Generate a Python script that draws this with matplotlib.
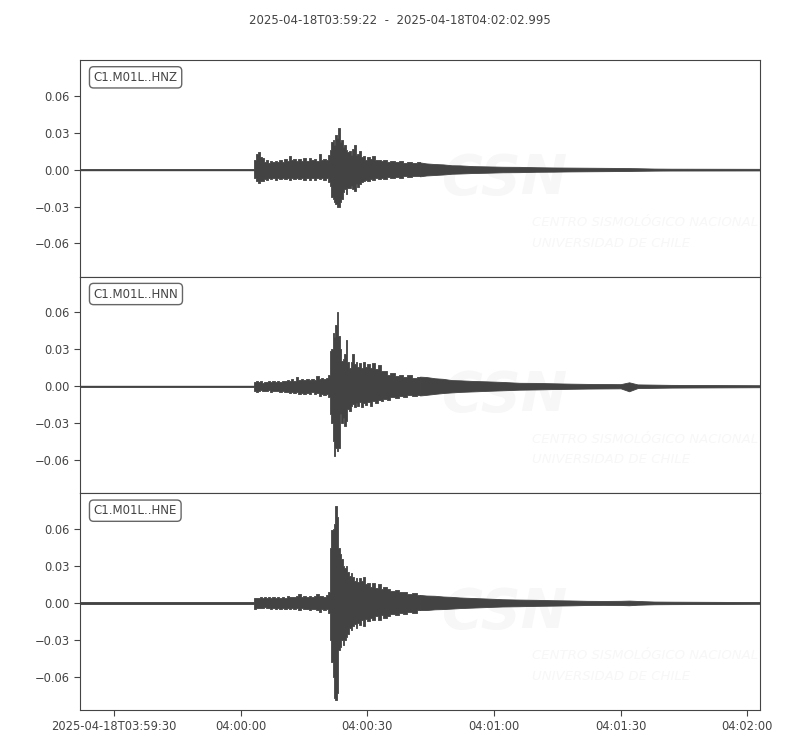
import numpy as np
import matplotlib
matplotlib.use("Agg")
import matplotlib.pyplot as plt
from matplotlib.ticker import FuncFormatter

# seconds after 2025-04-18T03:59:22 (envelope of each trace)
t_env = [0, 40.9, 41.3, 41.9, 42.4, 42.8, 43.2, 43.7, 44.2, 44.7, 45.2, 45.8, 46.3, 46.9, 47.5,
         48.0, 48.6, 49.2, 49.7, 50.2, 50.8, 51.4, 52.0, 52.6, 53.2, 53.8, 54.4, 55.0, 55.6, 56.2,
         56.8, 57.3, 57.9, 58.5, 59.0, 59.2, 59.6, 59.97, 60.3, 60.6, 61.0, 61.4, 61.7, 62.0, 62.4,
         62.7, 63.1, 63.5, 63.9, 64.3, 64.7, 65.1, 65.5, 65.9, 66.3, 66.8, 67.3, 67.8, 68.3, 68.9,
         69.5, 70.1, 70.8, 71.5, 72.2, 73.0, 74.0, 75.0, 76.0, 77.0, 78.0, 79.0, 80.5, 82.0, 84.0,
         86.0, 88.0, 90.0, 93.0, 96.0, 100.0, 104.0, 108.0, 112.0, 116.0, 120.0, 124.0, 128.0, 130.0,
         132.0, 136.0, 140.0, 161.0]

hnz_top = [0.0006, 0.0006, 0.008, 0.0125, 0.0145, 0.010, 0.0095, 0.006, 0.0075, 0.0055, 0.0068, 0.0058, 0.0070, 0.0062, 0.0078,
           0.0065, 0.0085, 0.0070, 0.011, 0.0075, 0.0082, 0.0068, 0.0086, 0.0072, 0.0090, 0.0070, 0.0095, 0.0075, 0.0085, 0.0070,
           0.013, 0.0080, 0.0085, 0.0075, 0.012, 0.016, 0.022, 0.024, 0.020, 0.028, 0.026, 0.034, 0.022, 0.024, 0.018,
           0.020, 0.016, 0.014, 0.015, 0.012, 0.017, 0.020, 0.012, 0.013, 0.015, 0.010, 0.011, 0.008, 0.010, 0.0085,
           0.011, 0.0075, 0.008, 0.0068, 0.0078, 0.0062, 0.0072, 0.0058, 0.0068, 0.0055, 0.0062, 0.0052, 0.0058, 0.0050, 0.0045,
           0.0042, 0.0035, 0.0034, 0.0028, 0.0026, 0.0023, 0.0022, 0.0019, 0.0017, 0.0016, 0.0015, 0.0014, 0.0013, 0.0012,
           0.0011, 0.0008, 0.0007, 0.0006]
hnz_bot = [-0.0006, -0.0006, -0.0065, -0.009, -0.0108, -0.009, -0.0095, -0.0075, -0.0085, -0.007, -0.0078, -0.0068, -0.0082, -0.007, -0.0075,
           -0.0068, -0.0080, -0.0072, -0.0085, -0.0070, -0.0078, -0.0065, -0.0080, -0.0070, -0.0088, -0.0072, -0.0082, -0.0068, -0.0086, -0.0072,
           -0.0080, -0.0070, -0.0085, -0.0072, -0.010, -0.0135, -0.022, -0.024, -0.026, -0.028, -0.030, -0.030, -0.026, -0.024, -0.018,
           -0.016, -0.020, -0.015, -0.015, -0.013, -0.016, -0.0175, -0.012, -0.014, -0.012, -0.010, -0.0095, -0.0085, -0.0095, -0.0080,
           -0.0088, -0.0072, -0.0080, -0.0068, -0.0075, -0.0062, -0.0070, -0.0060, -0.0066, -0.0056, -0.0060, -0.0052, -0.0055, -0.0048, -0.0044,
           -0.0040, -0.0034, -0.0032, -0.0028, -0.0026, -0.0022, -0.0021, -0.0018, -0.0017, -0.0015, -0.0014, -0.0013, -0.0012, -0.0011,
           -0.0010, -0.0008, -0.0007, -0.0006]

hnn_top = [0.0005, 0.0005, 0.0035, 0.0043, 0.0035, 0.0040, 0.0030, 0.0038, 0.0032, 0.0045, 0.0035, 0.0040, 0.0033, 0.0042, 0.0036,
           0.0045, 0.0040, 0.0050, 0.0042, 0.0055, 0.0045, 0.0076, 0.0050, 0.0055, 0.0048, 0.0060, 0.0050, 0.0058, 0.0052, 0.0084,
           0.0060, 0.0065, 0.0055, 0.0068, 0.0090, 0.0286, 0.030, 0.0435, 0.040, 0.050, 0.0606, 0.041, 0.030, 0.0205, 0.022,
           0.026, 0.0373, 0.020, 0.015, 0.020, 0.026, 0.018, 0.020, 0.016, 0.019, 0.015, 0.020, 0.016, 0.018, 0.015,
           0.019, 0.014, 0.017, 0.012, 0.0124, 0.0095, 0.011, 0.0085, 0.0095, 0.0075, 0.0088, 0.0070, 0.0078, 0.0075, 0.0065,
           0.0060, 0.0050, 0.0048, 0.0043, 0.0040, 0.0035, 0.0028, 0.0027, 0.0024, 0.0021, 0.0019, 0.0018, 0.0017, 0.0032,
           0.0015, 0.0013, 0.0011, 0.0008]
hnn_bot = [-0.0005, -0.0005, -0.0040, -0.0043, -0.0038, -0.0032, -0.0042, -0.0035, -0.0040, -0.0034, -0.0045, -0.0036, -0.0042, -0.0038, -0.0048,
           -0.0040, -0.0050, -0.0045, -0.0055, -0.0048, -0.0058, -0.0050, -0.0062, -0.0052, -0.0065, -0.0055, -0.0060, -0.0050, -0.0065, -0.0058,
           -0.0078, -0.0060, -0.0068, -0.0062, -0.0090, -0.0227, -0.030, -0.0443, -0.0565, -0.050, -0.0524, -0.050, -0.0227, -0.030, -0.026,
           -0.032, -0.028, -0.0187, -0.020, -0.016, -0.0146, -0.017, -0.014, -0.016, -0.013, -0.017, -0.014, -0.015, -0.013, -0.016,
           -0.012, -0.014, -0.011, -0.012, -0.010, -0.011, -0.009, -0.0095, -0.008, -0.0085, -0.007, -0.0082, -0.0075, -0.0070, -0.0062,
           -0.0055, -0.0050, -0.0046, -0.0042, -0.0038, -0.0033, -0.0028, -0.0026, -0.0023, -0.0021, -0.0019, -0.0018, -0.0017, -0.0041,
           -0.0015, -0.0013, -0.0011, -0.0008]

hne_top = [0.0007, 0.0007, 0.0040, 0.0043, 0.0038, 0.0045, 0.0040, 0.0048, 0.0040, 0.0045, 0.0038, 0.0050, 0.0042, 0.0047, 0.0040,
           0.0052, 0.0044, 0.0055, 0.0045, 0.0050, 0.0048, 0.0055, 0.0076, 0.0050, 0.0057, 0.0048, 0.0055, 0.0050, 0.0058, 0.0076,
           0.0055, 0.0060, 0.0052, 0.0062, 0.0090, 0.045, 0.059, 0.060, 0.064, 0.079, 0.070, 0.045, 0.040, 0.036, 0.030,
           0.028, 0.030, 0.025, 0.022, 0.024, 0.021, 0.018, 0.020, 0.017, 0.020, 0.018, 0.021, 0.015, 0.016, 0.013,
           0.016, 0.012, 0.015, 0.011, 0.013, 0.0116, 0.0095, 0.0105, 0.0085, 0.0092, 0.0075, 0.0082, 0.0065, 0.0060, 0.0058,
           0.0052, 0.0049, 0.0044, 0.0040, 0.0036, 0.0030, 0.0027, 0.0025, 0.0022, 0.0020, 0.0017, 0.0016, 0.0017, 0.0019,
           0.0016, 0.0011, 0.0010, 0.0007]
hne_bot = [-0.0007, -0.0007, -0.0046, -0.0040, -0.0045, -0.0038, -0.0044, -0.0036, -0.0045, -0.0040, -0.0046, -0.0038, -0.0048, -0.0040, -0.0050,
           -0.0042, -0.0048, -0.0040, -0.0052, -0.0044, -0.0050, -0.0042, -0.0054, -0.0045, -0.0052, -0.0046, -0.0054, -0.0046, -0.0050, -0.0060,
           -0.0074, -0.0050, -0.0054, -0.0048, -0.0080, -0.030, -0.048, -0.060, -0.077, -0.079, -0.073, -0.038, -0.036, -0.030, -0.034,
           -0.030, -0.028, -0.025, -0.020, -0.022, -0.019, -0.017, -0.020, -0.016, -0.018, -0.014, -0.019, -0.013, -0.015, -0.012,
           -0.014, -0.011, -0.014, -0.010, -0.012, -0.0105, -0.0086, -0.0095, -0.0080, -0.0088, -0.0070, -0.0078, -0.0058, -0.0058, -0.0052,
           -0.0050, -0.0046, -0.0042, -0.0038, -0.0034, -0.0029, -0.0027, -0.0024, -0.0022, -0.0020, -0.0017, -0.0016, -0.0017, -0.0019,
           -0.0015, -0.0011, -0.0010, -0.0007]

channels = ["C1.M01L..HNZ", "C1.M01L..HNN", "C1.M01L..HNE"]
tops = [hnz_top, hnn_top, hne_top]
bots = [hnz_bot, hnn_bot, hne_bot]

duration = 160.995
title = "2025-04-18T03:59:22  -  2025-04-18T04:02:02.995"
xtick_pos = [8, 38, 68, 98, 128, 158]
xtick_labels = ["2025-04-18T03:59:30", "04:00:00", "04:00:30", "04:01:00", "04:01:30", "04:02:00"]
ytick_pos = [-0.06, -0.03, 0.0, 0.03, 0.06]

for a in tops + bots:
    assert len(a) == len(t_env)

wave_col = "#434343"
txt_col = "#444444"
mark_col = "#f7f7f7"

fig = plt.figure(figsize=(8, 7.5), dpi=100)
fig.subplots_adjust(left=0.1, right=0.95, top=0.92, bottom=0.0533, hspace=0)
axes = fig.subplots(3, 1, sharex=True)

fig.text(0.5, 0.973, title, ha="center", va="center", fontsize=8.5, color=txt_col)

t = np.array(t_env)
strong = t <= 80.5   # spiky part drawn with steps, coda drawn smooth
coda = t >= 80.5

for i, ax in enumerate(axes):
    top = np.array(tops[i])
    bot = np.array(bots[i])
    # faint logo watermark
    ax.text(0.625, 0.45, "CSN", transform=ax.transAxes, fontsize=40, fontweight="bold",
            fontstyle="italic", color=mark_col, ha="center", va="center", zorder=0, clip_on=True)
    ax.text(0.665, 0.25, "CENTRO SISMOLÓGICO NACIONAL", transform=ax.transAxes, fontsize=9.5,
            fontstyle="italic", color=mark_col, ha="left", va="center", zorder=0, clip_on=True)
    ax.text(0.665, 0.155, "UNIVERSIDAD DE CHILE", transform=ax.transAxes, fontsize=9.5,
            fontstyle="italic", color=mark_col, ha="left", va="center", zorder=0, clip_on=True)

    ax.fill_between(t[strong], bot[strong], top[strong], color=wave_col, lw=0.6,
                    step="mid", zorder=2)
    ax.fill_between(t[coda], bot[coda], top[coda], color=wave_col, lw=0.6, zorder=2)
    ax.plot([0, duration], [0, 0], color=wave_col, lw=1, zorder=2)

    ax.set_xlim(0, duration)
    ax.set_ylim(-0.087, 0.089)
    ax.set_yticks(ytick_pos)
    ax.yaxis.set_major_formatter(FuncFormatter(lambda v, p: f"{v:.2f}".replace("-", "\u2212")))
    ax.tick_params(axis="both", labelsize=8.3, colors=txt_col, length=4, width=0.8)
    for s in ax.spines.values():
        s.set_color(txt_col)
        s.set_linewidth(0.8)
    ax.text(0.02, 0.92, channels[i], transform=ax.transAxes, fontsize=8.5, color=txt_col,
            ha="left", va="center", zorder=5,
            bbox=dict(boxstyle="round,pad=0.35", fc="white", ec="#666666", lw=1.0))
    if i < 2:
        ax.tick_params(axis="x", bottom=False, labelbottom=False)

axes[-1].set_xticks(xtick_pos)
axes[-1].set_xticklabels(xtick_labels)

fig.savefig("out.png", dpi=100)
